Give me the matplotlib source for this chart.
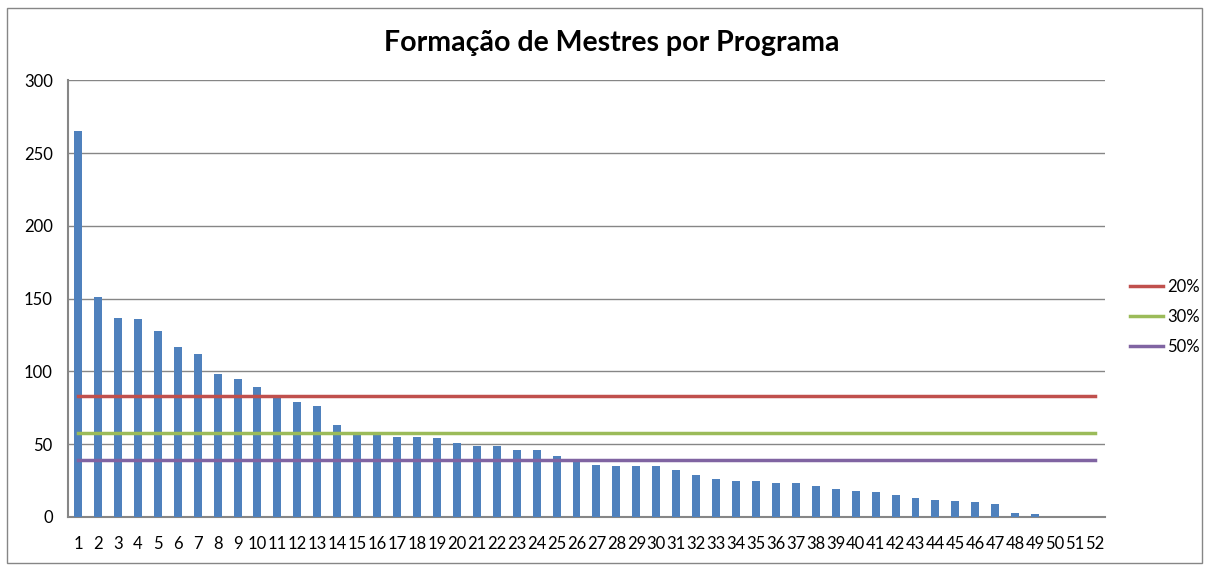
import numpy as np
import matplotlib
matplotlib.use("Agg")
import matplotlib.pyplot as plt
from matplotlib.patches import Rectangle

plt.rcParams['font.family'] = ['Lato', 'DejaVu Sans']

programas = list(range(1, 53))
mestres = [265, 151, 137, 136, 128, 117, 112, 98, 95, 89,
           83, 79, 76, 63, 58, 58, 55, 55, 54, 51,
           49, 49, 46, 46, 42, 39, 36, 35, 35, 35,
           32, 29, 26, 25, 25, 23, 23, 21, 19, 18,
           17, 15, 13, 12, 11, 10, 9, 3, 2, 0,
           0, 0]
limiares = {'20%': 83, '30%': 58, '50%': 39}
cores = {'20%': '#c0504d', '30%': '#9bbb59', '50%': '#8064a2'}

fig = plt.figure(figsize=(12.06, 5.65), dpi=100)
ax = fig.add_axes([0.0564, 0.085, 0.8598, 0.773])

ax.bar(programas, mestres, width=0.4, color='#4f81bd', zorder=3)
for nome, valor in limiares.items():
    ax.plot([programas[0], programas[-1]], [valor, valor], color=cores[nome],
            linewidth=2.5, label=nome, zorder=4)

ax.set_xlim(0.5, 52.5)
ax.set_ylim(0, 300)
ax.set_yticks(np.arange(0, 301, 50))
ax.set_xticks(programas)
ax.tick_params(axis='x', length=0, labelsize=12, pad=14)
ax.tick_params(axis='y', length=0, labelsize=12, pad=11)
ax.yaxis.grid(True, color='#868686', linewidth=1, zorder=0)
for s in ['top', 'right']:
    ax.spines[s].set_visible(False)
for s in ['left', 'bottom']:
    ax.spines[s].set_color('#868686')
    ax.spines[s].set_linewidth(1.5)

fig.text(0.507, 0.924, 'Formação de Mestres por Programa', ha='center', va='center',
         fontsize=20.5, fontweight='bold')

ax.legend(loc='center left', bbox_to_anchor=(1.024, 0.458), frameon=False,
          fontsize=12, handlelength=2.0, handletextpad=0.25, labelspacing=0.86,
          borderpad=0, borderaxespad=0)

fig.patches.append(Rectangle((0.006, 0.004), 0.991, 0.982, transform=fig.transFigure,
                             fill=False, edgecolor='#868686', linewidth=1))

fig.savefig('out.png', dpi=100)
